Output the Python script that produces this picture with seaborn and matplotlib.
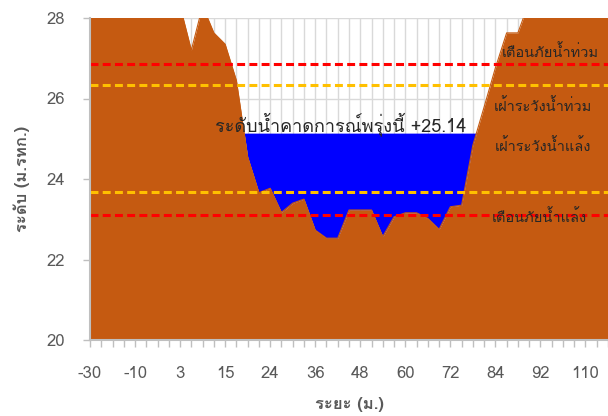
import matplotlib
matplotlib.use("Agg")
import matplotlib.pyplot as plt
import seaborn as sns
import numpy as np
import pandas as pd
from matplotlib import font_manager
from matplotlib.ft2font import FT2Font

# distance labels (m) for each survey point; only every 4th is shown on the axis
distance = [-30, -25, -20, -15, -10, -7, -3, 0, 3, 6, 9, 12, 15, 17, 19, 22,
            24, 27, 30, 33, 36, 39, 42, 45, 48, 51, 54, 57, 60, 63, 66, 69,
            72, 75, 78, 81, 84, 86, 88, 90, 92, 96, 100, 105, 110, 115, 120]
# ground elevation (m. MSL)
ground = [29.5, 29.4, 29.2, 29.0, 28.9, 28.8, 28.7, 28.6, 28.3, 27.2, 28.3, 27.63,
          27.35, 26.45, 24.55, 23.66, 23.77, 23.17, 23.40, 23.50, 22.73, 22.53,
          22.53, 23.23, 23.23, 23.23, 22.57, 23.06, 23.16, 23.16, 23.02, 22.75,
          23.31, 23.35, 24.84, 25.79, 26.76, 27.63, 27.63, 28.4, 28.8, 29.0,
          29.2, 29.3, 29.4, 29.5, 29.6]
water_level = 25.14
flood_warning = 26.85
flood_watch = 26.34
drought_watch = 23.68
drought_warning = 23.10
y_ticks = [20, 22, 24, 26, 28]


def find_thai_font():
    for f in font_manager.fontManager.ttflist:
        try:
            if 0x0E23 in FT2Font(f.fname).get_charmap():
                return f.name
        except Exception:
            pass
    return None


sns.set_theme(style="white")
thai = find_thai_font()
families = [thai, "DejaVu Sans"] if thai else ["DejaVu Sans"]
plt.rcParams["font.family"] = families

df = pd.DataFrame({"idx": np.arange(len(ground)), "distance": distance, "ground": ground})
x = df["idx"].to_numpy()
g = df["ground"].to_numpy()

fig = plt.figure(figsize=(6.08, 4.16), dpi=100)
ax = fig.add_axes([90 / 608, 76 / 416, 518 / 608, 322 / 416])

# water surface between the banks
ax.fill_between(x, g, water_level, where=g < water_level, interpolate=True,
                color="#0000ff", lw=0, zorder=1)
# ground cross-section
ax.fill_between(x, 20, g, color="#c55a11", lw=0, zorder=2)
sns.lineplot(data=df, x="idx", y="ground", color="#c55a11", lw=0.8, ax=ax, zorder=2)

dash = dict(lw=2.2, linestyle=(0, (2.6, 1.4)), zorder=3)
ax.axhline(flood_warning, color="#ff0000", **dash)
ax.axhline(flood_watch, color="#ffc000", **dash)
ax.axhline(drought_watch, color="#ffc000", **dash)
ax.axhline(drought_warning, color="#ff0000", **dash)

lab_kw = dict(ha="center", va="center", fontsize=10.5, color="#262626", zorder=4)
ax.text(40.85, 27.16, "เตือนภัยน้ำท่วม", **lab_kw)
ax.text(40.25, 25.81, "เฝ้าระวังน้ำท่วม", **lab_kw)
ax.text(40.25, 24.82, "เฝ้าระวังน้ำแล้ง", **lab_kw)
ax.text(39.9, 23.06, "เตือนภัยน้ำแล้ง", **lab_kw)
ax.text(22.3, 25.19, "ระดับน้ำคาดการณ์พรุ่งนี้ +%.2f" % water_level, ha="center",
        va="baseline", fontsize=13, color="#262626", zorder=4)

ax.set_xlim(0, len(ground) - 1)
ax.set_ylim(20, 28)
ax.set_yticks(y_ticks)
ax.set_xticks(x)
ax.set_xticklabels([str(d) if i % 4 == 0 else "" for i, d in enumerate(distance)])

ax.set_axisbelow(True)
ax.grid(True, color="#d9d9d9", lw=1.0)

for s in ["top", "right"]:
    ax.spines[s].set_visible(False)
for s in ["left", "bottom"]:
    ax.spines[s].set_color("#bfbfbf")
    ax.spines[s].set_linewidth(1.5)
    ax.spines[s].set_zorder(5)

ax.tick_params(axis="both", which="major", direction="out", length=5, width=1,
               color="#bfbfbf", labelcolor="#595959", labelsize=12, bottom=True, left=True)
ax.tick_params(axis="x", pad=13.5)
ax.tick_params(axis="y", pad=13)

ax.set_xlabel("ระยะ (ม.)", fontsize=12, fontweight="bold", color="#595959", labelpad=11)
ax.set_ylabel("ระดับ (ม.รทก.)", fontsize=12, fontweight="bold", color="#595959", labelpad=12)

fig.savefig("out.png", dpi=100)
plt.close(fig)
